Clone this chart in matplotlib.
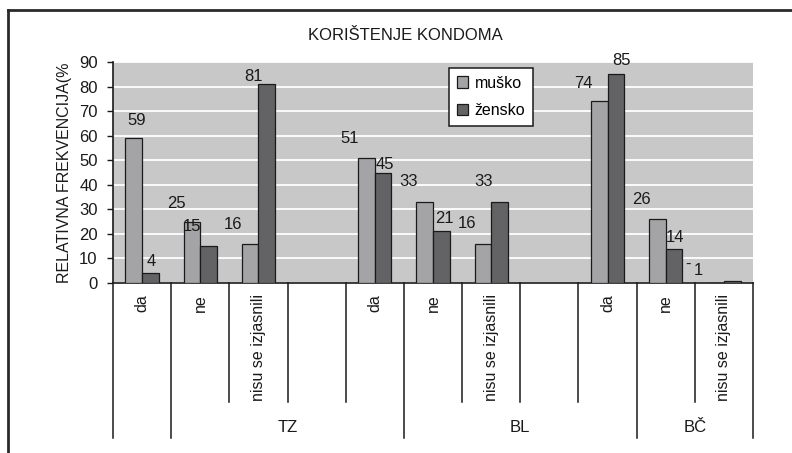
import numpy as np
import matplotlib.pyplot as plt
import matplotlib.transforms as mtransforms
from matplotlib.lines import Line2D

plt.rcParams['font.family'] = ['Liberation Sans', 'DejaVu Sans']

# slots along the x axis (empty strings are spacer slots between regions)
categories = ['da', 'ne', 'nisu se izjasnili', '',
              'da', 'ne', 'nisu se izjasnili', '',
              'da', 'ne', 'nisu se izjasnili']
groups = ['', 'TZ', 'BL', 'BČ']
group_sizes = [1, 4, 4, 2]

musko = [59, 25, 16, np.nan, 51, 33, 16, np.nan, 74, 26, 0]
zensko = [4, 15, 81, np.nan, 45, 21, 33, np.nan, 85, 14, 1]
yticks = [0, 10, 20, 30, 40, 50, 60, 70, 80, 90]

# hand-placed value labels: (dx, dy) in pixels from the top centre of each bar
musko_off = [(3, 18), (-16, 18), (-17, 19.7), None, (-16.6, 19.4), (-16.5, 20.3),
             (-16.3, 20.4), None, (-16, 18), (-16, 19.8), (-28, 19)]
zensko_off = [(1, 11.5), (-17, 19.5), (-13, 7.3), None, (2, 8), (3.6, 13),
              (-16.3, 20.3), None, (5.7, 14), (1, 11.3), (-34, 10)]

c_m = '#a4a4a6'
c_z = '#636366'
ink = '#1a1a1a'

fig = plt.figure(figsize=(7.92, 4.53), dpi=100)
ax = fig.add_axes([113 / 792, 1 - 283 / 453, 640 / 792, 221 / 453])
ax.set_facecolor('#c8c8c8')

n = len(categories)
x = np.arange(n)
w = 1 / 3.5
ax.bar(x - w / 2, musko, w, color=c_m, edgecolor=ink, linewidth=0.9, zorder=3, label='muško')
ax.bar(x + w / 2, zensko, w, color=c_z, edgecolor=ink, linewidth=0.9, zorder=3, label='žensko')

px = 72 / fig.dpi
for i in range(n):
    for vals, offs, dx0 in ((musko, musko_off, -w / 2), (zensko, zensko_off, w / 2)):
        v = vals[i]
        if np.isnan(v):
            continue
        dx, dy = offs[i]
        txt = '-' if v == 0 else f'{v:g}'
        ax.annotate(txt, (x[i] + dx0, v), xytext=(dx * px, dy * px), textcoords='offset points',
                    ha='center', va='center', fontsize=12, color=ink, zorder=5)

ax.set_xlim(-0.5, n - 0.5)
ax.set_ylim(0, 90)
ax.set_yticks(yticks)
ax.yaxis.grid(True, color='white', linewidth=1.3, zorder=1)
ax.set_axisbelow(True)
ax.tick_params(axis='y', direction='out', length=4, width=1, pad=7, labelsize=12, colors=ink)
ax.set_xticks([])
for s in ('top', 'right'):
    ax.spines[s].set_visible(False)
for s in ('left', 'bottom'):
    ax.spines[s].set_color(ink)
    ax.spines[s].set_linewidth(1.2)
ax.set_ylabel('RELATIVNA FREKVENCIJA(%', fontsize=11.5, color=ink, labelpad=5)

# two-level category axis below the plot
trans = mtransforms.blended_transform_factory(ax.transData, ax.transAxes)
for i, lab in enumerate(categories):
    ax.text(x[i], -0.05, lab, rotation=90, ha='center', va='top', fontsize=11.5,
            color=ink, transform=trans)

edges = np.concatenate([[0], np.cumsum(group_sizes)])
for b in range(n + 1):
    tall = b in edges
    ax.plot([b - 0.5, b - 0.5], [0, -0.701 if tall else -0.538], color=ink,
            linewidth=1.1, transform=trans, clip_on=False)
for g, a, e in zip(groups, edges[:-1], edges[1:]):
    ax.text((a + e) / 2 - 0.5, -0.652, g, ha='center', va='center', fontsize=12,
            color=ink, transform=trans)

leg = ax.legend(loc='upper left', bbox_to_anchor=(0.525, 0.975), fontsize=11.5, frameon=True,
                fancybox=False, edgecolor=ink, framealpha=1, handlelength=0.7,
                handleheight=0.7, handletextpad=0.4, labelspacing=0.8, borderpad=0.5,
                borderaxespad=0)
leg.get_frame().set_linewidth(1.1)

fig.text(405 / 792, 1 - 35 / 453, 'KORIŠTENJE KONDOMA', ha='center', va='center',
         fontsize=12, color=ink)

# chart frame
fig.add_artist(Line2D([8 / 792, 8 / 792], [0, 1 - 10 / 453], color='#2a2a2a', linewidth=2,
                      transform=fig.transFigure))
fig.add_artist(Line2D([8 / 792, 1], [1 - 10 / 453, 1 - 10 / 453], color='#2a2a2a', linewidth=2,
                      transform=fig.transFigure))

fig.savefig('out.png', dpi=100)
